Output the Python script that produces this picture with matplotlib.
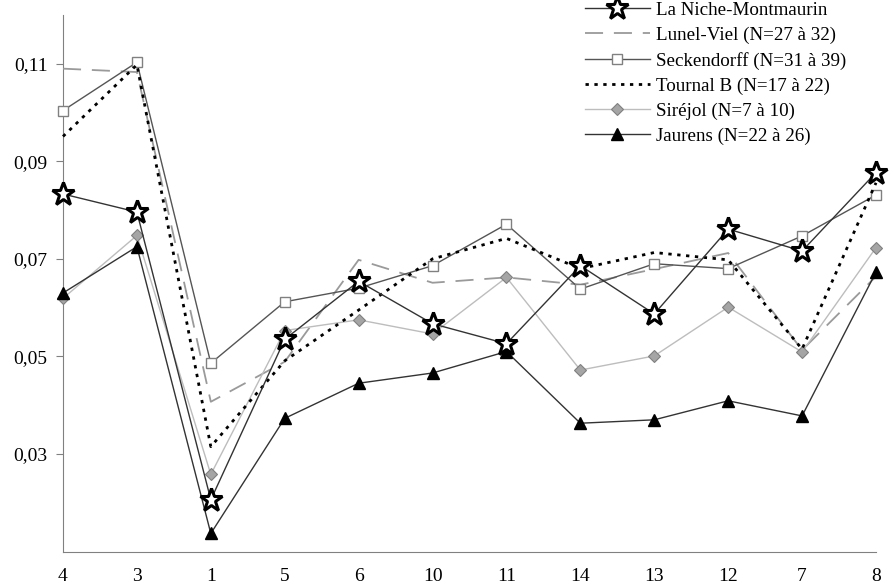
import matplotlib
matplotlib.use("Agg")
import matplotlib.pyplot as plt

categories = ["4", "3", "1", "5", "6", "10", "11", "14", "13", "12", "7", "8"]

niche = [0.0833, 0.0796, 0.0206, 0.0535, 0.0654, 0.0567, 0.0526, 0.0686, 0.0587, 0.0761, 0.0716, 0.0877]
lunel = [0.1090, 0.1083, 0.0407, 0.0489, 0.0698, 0.0651, 0.0662, 0.0647, 0.0679, 0.0712, 0.0513, 0.0664]
seckendorff = [0.1004, 0.1103, 0.0486, 0.0612, 0.0640, 0.0686, 0.0771, 0.0638, 0.0690, 0.0680, 0.0747, 0.0831]
tournal = [0.0951, 0.1098, 0.0315, 0.0491, 0.0595, 0.0700, 0.0742, 0.0680, 0.0713, 0.0698, 0.0515, 0.0856]
sirejol = [0.0619, 0.0748, 0.0258, 0.0553, 0.0575, 0.0546, 0.0662, 0.0472, 0.0501, 0.0601, 0.0509, 0.0723]
jaurens = [0.0630, 0.0725, 0.0137, 0.0373, 0.0445, 0.0466, 0.0510, 0.0363, 0.0370, 0.0409, 0.0378, 0.0673]

labels = ["La Niche-Montmaurin", "Lunel-Viel (N=27 à 32)", "Seckendorff (N=31 à 39)",
          "Tournal B (N=17 à 22)", "Siréjol (N=7 à 10)", "Jaurens (N=22 à 26)"]

y_ticks = [0.03, 0.05, 0.07, 0.09, 0.11]


def main():
    plt.rcParams['font.family'] = ['Liberation Serif', 'DejaVu Serif']
    fig = plt.figure(figsize=(8.9, 5.87), dpi=100)
    ax = fig.add_axes([63 / 890, 1 - 551.5 / 587, (876 - 63) / 890, (551.5 - 15) / 587])

    x = list(range(len(categories)))

    l1, = ax.plot(x, niche, color="#333333", lw=1.0, marker="*", markersize=17,
                  mfc="white", mec="black", mew=2.2, zorder=7, clip_on=False)
    l2, = ax.plot(x, lunel, color="#9a9a9a", lw=1.3, linestyle=(0, (10, 6)), zorder=3, clip_on=False)
    l3, = ax.plot(x, seckendorff, color="#555555", lw=1.0, marker="s", markersize=6.5,
                  mfc="white", mec="#808080", mew=1.0, zorder=4, clip_on=False)
    l4, = ax.plot(x, tournal, color="black", lw=2.0, linestyle=(0, (1.2, 2.0)), zorder=5, clip_on=False)
    l5, = ax.plot(x, sirejol, color="#bdbdbd", lw=1.0, marker="D", markersize=6.5,
                  mfc="#a5a5a5", mec="#808080", mew=0.8, zorder=4, clip_on=False)
    l6, = ax.plot(x, jaurens, color="#333333", lw=1.0, marker="^", markersize=9,
                  mfc="black", mec="black", zorder=6, clip_on=False)

    ax.set_xlim(0, len(categories) - 1)
    ax.set_ylim(0.01, 0.12)

    ax.spines["top"].set_visible(False)
    ax.spines["right"].set_visible(False)
    ax.spines["left"].set_color("#808080")
    ax.spines["bottom"].set_color("#808080")

    ax.set_xticks(x)
    ax.set_xticklabels(categories, fontsize=14)
    ax.set_xticks(x[::2], minor=True)
    ax.tick_params(axis="x", which="major", length=0, pad=12)
    ax.tick_params(axis="x", which="minor", length=5, color="#808080", direction="out")

    ax.set_yticks(y_ticks)
    ax.set_yticklabels([("%.2f" % v).replace(".", ",") for v in y_ticks], fontsize=14)
    ax.tick_params(axis="y", length=5, color="#808080", pad=6)

    fig.legend([l1, l2, l3, l4, l5, l6], labels, loc="upper left",
               bbox_to_anchor=(585 / 890, 0.997), frameon=False, fontsize=13.7,
               handlelength=3.4, handletextpad=0.35, labelspacing=0.4,
               borderpad=0, borderaxespad=0, numpoints=1)

    fig.savefig("out.png", dpi=100)


if __name__ == "__main__":
    main()
